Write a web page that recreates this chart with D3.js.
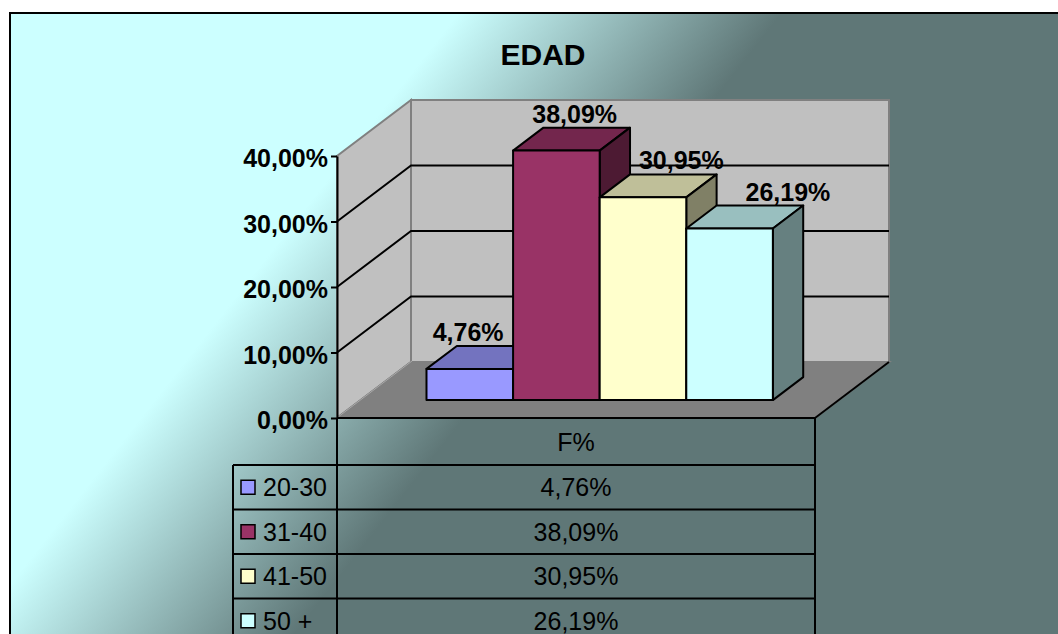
<!DOCTYPE html>
<html>
<head>
<meta charset="utf-8">
<script src="https://cdn.jsdelivr.net/npm/d3@7"></script>
<style>
  body { margin: 0; background: #fff; }
  svg { display: block; font-family: Arial, "Liberation Sans", sans-serif; }
</style>
</head>
<body>
<div id="viz"></div>
<script>
// data
var title = 'EDAD';
var category = 'F%';
var series = ['20-30', '31-40', '41-50', '50 +'];
var values = [0.0476, 0.3809, 0.3095, 0.2619];
var colors = ['#9999ff', '#993366', '#ffffcc', '#ccffff'];
var ticks = [0, 0.1, 0.2, 0.3, 0.4];

var W = 1058, H = 634;
var es = d3.formatLocale({ decimal: ',', thousands: '.', grouping: [3], currency: ['', ' €'] });
var fmt = es.format('.2%');

var svg = d3.select('#viz').append('svg')
  .attr('width', W)
  .attr('height', H);

// background gradient
var grad = svg.append('defs').append('linearGradient')
  .attr('id', 'bg')
  .attr('gradientUnits', 'userSpaceOnUse')
  .attr('x1', 290).attr('y1', 228)
  .attr('x2', 490).attr('y2', 385);
grad.append('stop').attr('offset', 0).attr('stop-color', '#ccffff');
grad.append('stop').attr('offset', 1).attr('stop-color', '#5f7777');

svg.append('rect')
  .attr('x', 10).attr('y', 13)
  .attr('width', 1070).attr('height', 700)
  .attr('fill', 'url(#bg)')
  .attr('stroke', '#000')
  .attr('stroke-width', 2);

// 3d frame
var ox = 337, oy = 418, pw = 478, ddx = 74, ddy = 56;
var y = d3.scaleLinear().domain([0, 0.4]).range([0, 262]);
function pt(x, v, z) { return [ox + x + z * ddx, oy - y(v) - z * ddy]; }
function poly(p) { return 'M' + p.map(function(d) { return d.join(','); }).join('L') + 'Z'; }
var line = d3.line();

var frame = svg.append('g');
frame.append('path')
  .attr('d', poly([pt(0, 0, 0), pt(0, 0.4, 0), pt(0, 0.4, 1), pt(0, 0, 1)]))
  .attr('fill', '#c0c0c0').attr('stroke', '#808080').attr('stroke-width', 2);
frame.append('path')
  .attr('d', poly([pt(0, 0, 1), pt(0, 0.4, 1), pt(pw, 0.4, 1), pt(pw, 0, 1)]))
  .attr('fill', '#c0c0c0').attr('stroke', '#808080').attr('stroke-width', 2);
frame.append('path')
  .attr('d', poly([pt(0, 0, 0), pt(pw, 0, 0), pt(pw, 0, 1), pt(0, 0, 1)]))
  .attr('fill', '#808080').attr('stroke', '#808080').attr('stroke-width', 2);
frame.append('path')
  .attr('d', line([pt(0, 0, 0), pt(0, 0, 1)]))
  .attr('fill', 'none').attr('stroke', '#a8a8a8').attr('stroke-width', 1)
  .attr('transform', 'translate(1,-1)');
frame.append('path')
  .attr('d', line([pt(pw, 0, 0), pt(pw, 0, 1)]))
  .attr('fill', 'none').attr('stroke', '#000').attr('stroke-width', 2);

// gridlines
frame.selectAll('.grid')
  .data(ticks.filter(function(t) { return t > 0 && t < 0.4; }))
  .enter().append('path')
  .attr('class', 'grid')
  .attr('d', function(t) { return line([pt(0, t, 0), pt(0, t, 1), pt(pw, t, 1)]); })
  .attr('fill', 'none').attr('stroke', '#000').attr('stroke-width', 2);

// axis
var yAxisScale = d3.scaleLinear().domain([0, 0.4]).range([oy, oy - 262]);
var axis = svg.append('g')
  .attr('transform', 'translate(' + ox + ',0)')
  .call(d3.axisLeft(yAxisScale).tickValues(ticks).tickFormat(fmt)
    .tickSizeInner(6).tickSizeOuter(0).tickPadding(3));
axis.select('.domain').attr('stroke', '#000').attr('stroke-width', 2);
axis.selectAll('.tick line').attr('stroke', '#000').attr('stroke-width', 2);
axis.selectAll('.tick text')
  .attr('fill', '#000')
  .attr('dy', '0.42em')
  .style('font-size', '25px')
  .style('font-weight', 'bold')
  .style('font-family', 'Arial, "Liberation Sans", sans-serif');

// bars
var xb = d3.scaleBand().domain(series).range([0, pw]).paddingInner(0).paddingOuter(0.76);
var z0 = 0.32, z1 = 0.73;
function shade(c, k) {
  var r = d3.rgb(c);
  return d3.rgb(r.r * k, r.g * k, r.b * k).formatHex();
}

var bars = svg.append('g').selectAll('g')
  .data(series)
  .enter().append('g');

bars.each(function(s, i) {
  var g = d3.select(this);
  var x0 = xb(s), x1 = x0 + xb.bandwidth(), v = values[i];
  g.append('path')
    .attr('d', poly([pt(x0, v, z0), pt(x1, v, z0), pt(x1, v, z1), pt(x0, v, z1)]))
    .attr('fill', shade(colors[i], 0.75)).attr('stroke', '#000').attr('stroke-width', 2)
    .attr('stroke-linejoin', 'round');
  g.append('path')
    .attr('d', poly([pt(x1, 0, z0), pt(x1, 0, z1), pt(x1, v, z1), pt(x1, v, z0)]))
    .attr('fill', shade(colors[i], 0.5)).attr('stroke', '#000').attr('stroke-width', 2)
    .attr('stroke-linejoin', 'round');
  g.append('path')
    .attr('d', poly([pt(x0, 0, z0), pt(x1, 0, z0), pt(x1, v, z0), pt(x0, v, z0)]))
    .attr('fill', colors[i]).attr('stroke', '#000').attr('stroke-width', 2)
    .attr('stroke-linejoin', 'round');
});

// data labels
svg.append('g').selectAll('text')
  .data(series)
  .enter().append('text')
  .attr('x', function(s, i) { return pt(xb(s) + xb.bandwidth() / 2, values[i], z1)[0] + (i - 1.6) * 20; })
  .attr('y', function(s, i) { return pt(xb(s), values[i], z1)[1] - 5; })
  .attr('text-anchor', 'middle')
  .style('font-size', '25px')
  .style('font-weight', 'bold')
  .text(function(s, i) { return fmt(values[i]); });

// title
svg.append('text')
  .attr('x', 543).attr('y', 65)
  .attr('text-anchor', 'middle')
  .style('font-size', '30px')
  .style('font-weight', 'bold')
  .text(title);

// data table
var tl = 233, tr = ox + pw, headB = 465, rowH = 44.5;
var rowY = d3.scaleBand().domain(series).range([headB, headB + rowH * series.length]);
var tab = svg.append('g');
var hl = [[ox, oy]].concat(series.map(function(s) { return [tl, rowY(s)]; }));
hl.push([tl, headB + rowH * series.length]);
tab.selectAll('.hl').data(hl).enter().append('line')
  .attr('x1', function(d) { return d[0]; }).attr('x2', tr)
  .attr('y1', function(d) { return d[1]; }).attr('y2', function(d) { return d[1]; })
  .attr('stroke', '#000').attr('stroke-width', 2);
tab.selectAll('.vl').data([[tl, headB], [ox, oy], [tr, oy]]).enter().append('line')
  .attr('x1', function(d) { return d[0]; }).attr('x2', function(d) { return d[0]; })
  .attr('y1', function(d) { return d[1]; }).attr('y2', H + 20)
  .attr('stroke', '#000').attr('stroke-width', 2);

var cx = ox + pw / 2;
tab.append('text')
  .attr('x', cx).attr('y', (oy + headB) / 2 + 9)
  .attr('text-anchor', 'middle')
  .style('font-size', '25px')
  .text(category);

var rows = tab.selectAll('.row').data(series).enter().append('g')
  .attr('transform', function(s) { return 'translate(0,' + (rowY(s) + rowH / 2) + ')'; });
rows.append('rect')
  .attr('x', 241).attr('y', -7)
  .attr('width', 14).attr('height', 14)
  .attr('fill', function(s, i) { return colors[i]; })
  .attr('stroke', '#000').attr('stroke-width', 1.5);
rows.append('text')
  .attr('x', 263).attr('y', 9)
  .style('font-size', '25px')
  .text(function(s) { return s; });
rows.append('text')
  .attr('x', cx).attr('y', 9)
  .attr('text-anchor', 'middle')
  .style('font-size', '25px')
  .text(function(s, i) { return fmt(values[i]); });
</script>
</body>
</html>
